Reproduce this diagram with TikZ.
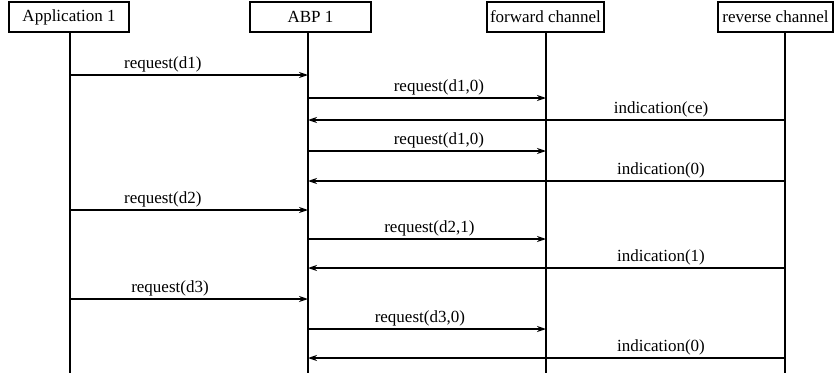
\documentclass[tikz,border=0pt]{standalone}
\usepackage{fontspec}
\setmainfont{Liberation Serif}
\usetikzlibrary{arrows.meta}
\tikzset{
  actor/.style={draw, line width=1.1pt, inner sep=0pt, minimum height=30pt, font=\fontsize{17}{20}\selectfont},
  life/.style={line width=1.3pt},
  msg/.style={line width=1.3pt, -{Stealth[length=9pt,width=6pt]}},
  lbl/.style={above=1pt, inner sep=1pt, font=\fontsize{17}{20}\selectfont}
}
\begin{document}
\begin{tikzpicture}[x=1pt,y=-1pt]
\useasboundingbox (0,0) rectangle (835,380);
% participants
\node[actor, minimum width=120pt] (appbox) at (69,17) {Application 1};
\node[actor, minimum width=121pt] (abpbox) at (310.5,17) {ABP 1};
\node[actor, minimum width=117pt] (fwdbox) at (545.5,17) {forward channel};
\node[actor, minimum width=115pt] (revbox) at (775.5,17) {reverse channel};
% lifeline positions
\coordinate (app) at (70,32);
\coordinate (abp) at (308,32);
\coordinate (fwd) at (546,32);
\coordinate (rev) at (785,32);
\coordinate (bot) at (0,373);
\foreach \l in {app,abp,fwd,rev}
  \draw[life] (\l) -- (\l |- bot);
% message rows
\coordinate (m1) at (0,75);
\coordinate (m2) at (0,98);
\coordinate (m3) at (0,120);
\coordinate (m4) at (0,151);
\coordinate (m5) at (0,181);
\coordinate (m6) at (0,210);
\coordinate (m7) at (0,239);
\coordinate (m8) at (0,268);
\coordinate (m9) at (0,299);
\coordinate (m10) at (0,329);
\coordinate (m11) at (0,358);
% messages
\draw[msg] (app|-m1) -- (abp|-m1) node[lbl, pos=0.39] {request(d1)};
\draw[msg] (abp|-m2) -- (fwd|-m2) node[lbl, pos=0.55] {request(d1,0)};
\draw[msg] (rev|-m3) -- (abp|-m3) node[lbl, pos=0.26] {indication(ce)};
\draw[msg] (abp|-m4) -- (fwd|-m4) node[lbl, pos=0.55] {request(d1,0)};
\draw[msg] (rev|-m5) -- (abp|-m5) node[lbl, pos=0.26] {indication(0)};
\draw[msg] (app|-m6) -- (abp|-m6) node[lbl, pos=0.39] {request(d2)};
\draw[msg] (abp|-m7) -- (fwd|-m7) node[lbl, pos=0.51] {request(d2,1)};
\draw[msg] (rev|-m8) -- (abp|-m8) node[lbl, pos=0.26] {indication(1)};
\draw[msg] (app|-m9) -- (abp|-m9) node[lbl, pos=0.42] {request(d3)};
\draw[msg] (abp|-m10) -- (fwd|-m10) node[lbl, pos=0.47] {request(d3,0)};
\draw[msg] (rev|-m11) -- (abp|-m11) node[lbl, pos=0.26] {indication(0)};
\end{tikzpicture}
\end{document}
